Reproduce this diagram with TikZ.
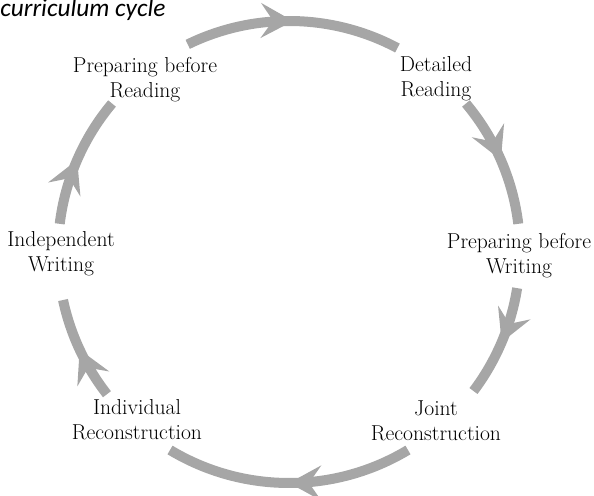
\documentclass[tikz,border=0pt]{standalone}
\usepackage{fontspec}
\newfontfamily\titlefont{Carlito}
\usetikzlibrary{arrows.meta,decorations.markings}
\definecolor{cyclegray}{HTML}{A6A6A6}
\tikzset{
  % --- nodes
  stage/.style = {align=center, inner sep=0pt, font=\fontsize{16.2}{18.8}\selectfont},
  heading/.style = {anchor=base west, inner sep=0pt, font=\titlefont\itshape\fontsize{19}{21}\selectfont},
  % --- arcs
  cyc/.style = {line width=7.5pt, color=cyclegray, postaction={decorate},
                decoration={markings, mark=at position #1 with
                  {\arrow{Stealth[length=24pt,width=26pt,inset=9pt]}}}},
}
\begin{document}
\begin{tikzpicture}[x=0.75pt,y=0.75pt]
  \useasboundingbox (0,0) rectangle (594,496);
  \node[heading] (title) at (0,479) {curriculum cycle};

  \coordinate (c) at (289,244);
  \node[stage] (prr) at (145,416) {Preparing before\\Reading};
  \node[stage] (dr)  at (436,417) {Detailed\\Reading};
  \node[stage] (pbw) at (519,240) {Preparing before\\Writing};
  \node[stage] (jr)  at (436,75)  {Joint\\Reconstruction};
  \node[stage] (ir)  at (137,76)  {Individual\\Reconstruction};
  \node[stage] (iw)  at (61,242)  {Independent\\Writing};

  \draw[cyc=0.5] ([shift={(116:231)}]c) arc[start angle=116, end angle=62, radius=231];
  \draw[cyc=0.5] ([shift={(40:231)}]c) arc[start angle=40, end angle=7, radius=231];
  \draw[cyc=0.5] ([shift={(-9:231)}]c) arc[start angle=-9, end angle=-37, radius=231];
  \draw[cyc=0.5] ([shift={(-59:231)}]c) arc[start angle=-59, end angle=-121, radius=231];
  \draw[cyc=0.5] ([shift={(-142:231)}]c) arc[start angle=-142, end angle=-168, radius=231];
  \draw[cyc=0.5] ([shift={(173:231)}]c) arc[start angle=173, end angle=140, radius=231];
\end{tikzpicture}
\end{document}
